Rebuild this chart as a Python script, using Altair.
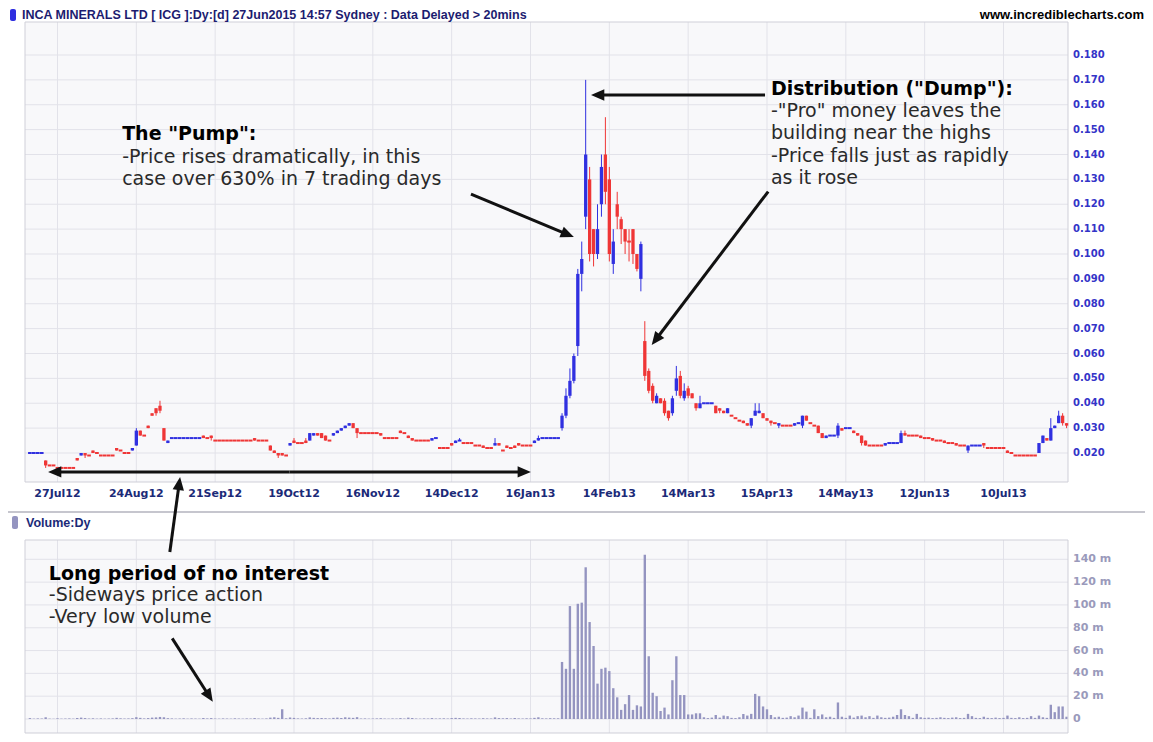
import math
import altair as alt
import pandas as pd

# ---------------- values ----------------
# one bar per ASX trading day, bar 0 = 18 Jul 2012 ... bar 263 = 31 Jul 2013
# prices in units of $0.001
OPEN_MILLS = [
    20, 20, 20, 20, 17, 15, 15, 14, 14, 14,
    14, 14, 18, 19, 20, 19, 21, 20, 19, 19,
    19, 19, 22, 21, 20, 20, 21, 23, 29, 27,
    31, 36, 38, 39, 30, 24, 26, 26, 26, 26,
    26, 26, 26, 26, 27, 26, 27, 25, 25, 25,
    25, 25, 25, 25, 25, 25, 25, 26, 25, 25,
    25, 23, 21, 20, 20, 19, 23, 25, 24, 24,
    25, 25, 27, 28, 28, 27, 25, 27, 28, 29,
    30, 31, 32, 30, 28, 28, 28, 28, 28, 28,
    26, 26, 26, 26, 29, 28, 27, 26, 25, 25,
    25, 25, 25, 26, 22, 22, 22, 24, 24, 25,
    24, 24, 24, 23, 23, 23, 22, 22, 23, 24,
    21, 23, 22, 23, 24, 23, 23, 23, 24, 25,
    26, 26, 26, 26, 26, 30, 35, 43, 49, 63,
    92, 115, 130, 110, 100, 120, 140, 130, 96, 120,
    114, 110, 105, 110, 100, 90, 65, 53, 47, 40,
    42, 41, 37, 36, 45, 51, 42, 46, 44, 40,
    38, 40, 40, 40, 39, 38, 37, 36, 35, 34,
    33, 33, 32, 31, 35, 36, 36, 34, 33, 32,
    31, 31, 31, 31, 31, 32, 31, 35, 32, 31,
    31, 28, 26, 27, 27, 27, 30, 30, 30, 29,
    28, 27, 25, 23, 23, 23, 23, 23, 24, 24,
    24, 24, 28, 27, 27, 27, 27, 26, 26, 26,
    25, 25, 25, 24, 24, 24, 23, 23, 21, 23,
    23, 23, 24, 22, 22, 22, 22, 22, 21, 20,
    19, 19, 19, 19, 19, 19, 20, 24, 26, 25,
    30, 32, 35, 32,
]
HIGH_MILLS = [
    20, 20, 20, 20, 17, 15, 15, 14, 14, 14,
    14, 14, 18, 20, 20, 19, 21, 20, 19, 19,
    19, 19, 22, 21, 20, 20, 22, 30, 29, 27,
    31, 36, 38, 41, 30, 25, 26, 26, 26, 26,
    26, 26, 26, 26, 27, 26, 27, 25, 25, 25,
    25, 25, 25, 25, 25, 25, 25, 26, 25, 25,
    25, 23, 21, 20, 20, 19, 24, 26, 24, 24,
    26, 28, 28, 28, 28, 27, 25, 28, 29, 30,
    31, 32, 32, 30, 28, 28, 28, 28, 28, 28,
    26, 26, 26, 26, 29, 28, 27, 26, 25, 25,
    25, 25, 26, 26, 22, 22, 22, 24, 25, 26,
    24, 24, 24, 23, 23, 23, 22, 22, 26, 24,
    21, 23, 22, 23, 24, 23, 23, 23, 25, 27,
    26, 26, 26, 26, 26, 36, 46, 54, 60, 94,
    105, 170, 135, 110, 120, 140, 155, 135, 110, 125,
    115, 110, 110, 110, 100, 105, 73, 54, 48, 44,
    42, 42, 37, 43, 55, 53, 48, 47, 44, 40,
    43, 40, 40, 40, 39, 38, 37, 38, 35, 34,
    33, 33, 32, 34, 40, 40, 36, 34, 33, 32,
    32, 31, 31, 31, 32, 32, 35, 35, 32, 31,
    31, 28, 27, 27, 27, 32, 30, 30, 30, 29,
    28, 27, 25, 23, 23, 23, 23, 24, 24, 24,
    24, 29, 29, 27, 27, 27, 27, 26, 26, 26,
    25, 25, 25, 24, 24, 24, 23, 23, 23, 23,
    23, 23, 24, 22, 22, 22, 22, 22, 21, 20,
    19, 19, 19, 19, 19, 19, 24, 27, 26, 34,
    31, 37, 36, 32,
]
LOW_MILLS = [
    20, 20, 20, 20, 14, 15, 15, 14, 14, 14,
    14, 14, 17, 19, 18, 19, 20, 20, 19, 19,
    19, 19, 21, 21, 20, 20, 21, 23, 27, 27,
    30, 35, 35, 36, 25, 24, 26, 26, 26, 26,
    26, 26, 26, 26, 26, 26, 25, 25, 25, 25,
    25, 25, 25, 25, 25, 25, 25, 25, 25, 25,
    25, 21, 20, 18, 19, 19, 23, 24, 24, 24,
    24, 25, 27, 27, 26, 25, 25, 27, 28, 29,
    30, 31, 30, 26, 28, 28, 28, 28, 28, 27,
    26, 26, 26, 26, 28, 28, 26, 25, 25, 25,
    25, 25, 25, 26, 22, 22, 22, 23, 24, 25,
    24, 24, 24, 23, 23, 22, 22, 22, 23, 23,
    21, 22, 22, 22, 23, 23, 23, 23, 24, 25,
    26, 26, 26, 26, 26, 29, 34, 42, 48, 59,
    85, 110, 97, 95, 98, 115, 120, 97, 92, 110,
    104, 100, 97, 96, 93, 85, 49, 44, 40, 40,
    40, 35, 33, 35, 43, 42, 41, 42, 42, 37,
    38, 40, 40, 40, 36, 36, 36, 36, 35, 34,
    33, 32, 31, 30, 35, 36, 34, 33, 31, 32,
    30, 31, 31, 31, 31, 32, 30, 33, 32, 31,
    28, 26, 26, 27, 27, 26, 29, 30, 30, 28,
    27, 23, 23, 23, 23, 23, 23, 23, 24, 24,
    24, 24, 27, 27, 27, 27, 26, 26, 26, 25,
    25, 25, 24, 24, 24, 23, 23, 23, 20, 23,
    23, 23, 22, 22, 22, 22, 22, 22, 20, 20,
    19, 19, 19, 19, 19, 19, 20, 24, 25, 25,
    30, 32, 31, 30,
]
CLOSE_MILLS = [
    20, 20, 20, 20, 15, 15, 15, 14, 14, 14,
    14, 14, 17, 20, 19, 19, 20, 20, 19, 19,
    19, 19, 21, 21, 20, 20, 22, 29, 27, 27,
    30, 35, 36, 37, 25, 25, 26, 26, 26, 26,
    26, 26, 26, 26, 26, 26, 26, 25, 25, 25,
    25, 25, 25, 25, 25, 25, 25, 25, 25, 25,
    25, 21, 20, 19, 19, 19, 24, 24, 24, 24,
    24, 28, 28, 27, 26, 25, 25, 28, 29, 30,
    31, 32, 30, 28, 28, 28, 28, 28, 28, 27,
    26, 26, 26, 26, 28, 28, 26, 25, 25, 25,
    25, 25, 26, 26, 22, 22, 22, 23, 25, 25,
    24, 24, 24, 23, 23, 22, 22, 22, 24, 23,
    21, 22, 22, 22, 23, 23, 23, 23, 25, 26,
    26, 26, 26, 26, 26, 35, 43, 49, 59, 92,
    98, 140, 100, 100, 110, 135, 125, 100, 105, 115,
    110, 105, 105, 100, 94, 104, 51, 45, 41, 43,
    40, 36, 34, 42, 50, 43, 45, 43, 42, 38,
    40, 40, 40, 40, 36, 37, 36, 38, 35, 34,
    33, 32, 31, 34, 37, 37, 34, 33, 32, 32,
    32, 31, 31, 31, 32, 32, 35, 33, 32, 31,
    28, 26, 27, 27, 27, 31, 29, 30, 30, 28,
    27, 24, 23, 23, 23, 23, 23, 24, 24, 24,
    24, 28, 27, 27, 27, 27, 26, 26, 26, 25,
    25, 25, 24, 24, 24, 23, 23, 23, 23, 23,
    23, 23, 23, 22, 22, 22, 22, 22, 20, 20,
    19, 19, 19, 19, 19, 19, 24, 27, 25, 30,
    31, 35, 32, 31,
]
# daily volume, millions of shares
VOLUME_M = [
    0.8, 0.3, 0.5, 0.4, 1.5, 0.3, 0.2, 0.6, 0.3, 0.4,
    0.5, 0.3, 0.9, 1.2, 0.8, 0.4, 0.6, 0.3, 0.5, 0.3,
    0.4, 0.5, 1.0, 0.6, 0.4, 0.5, 0.7, 1.6, 1.0, 0.5,
    0.8, 1.2, 1.4, 1.8, 1.5, 0.7, 0.5, 0.3, 0.4, 0.6,
    0.3, 0.5, 0.4, 0.3, 0.9, 0.5, 0.8, 0.4, 0.3, 0.5,
    0.4, 0.3, 0.6, 0.4, 0.3, 0.5, 0.4, 0.8, 0.4, 0.3,
    0.5, 1.2, 1.5, 1.0, 8.5, 0.6, 1.3, 1.0, 0.5, 0.4,
    0.6, 1.4, 1.0, 0.8, 0.9, 0.7, 0.5, 1.0, 1.2, 0.9,
    1.5, 1.2, 1.0, 1.6, 0.4, 0.5, 0.3, 0.4, 0.5, 0.7,
    0.4, 0.3, 0.5, 0.4, 0.8, 0.4, 1.2, 0.9, 0.4, 0.3,
    0.5, 0.4, 0.8, 0.4, 0.5, 0.6, 0.4, 0.8, 1.0, 0.9,
    0.5, 0.4, 0.6, 0.5, 0.4, 0.7, 0.5, 0.4, 1.4, 0.8,
    0.6, 0.8, 0.4, 0.9, 0.5, 0.4, 0.6, 0.5, 1.0, 1.5,
    0.6, 0.5, 0.7, 0.6, 0.6, 50, 44, 99, 44, 101,
    102, 133, 85, 64, 31, 44, 45, 42, 27, 19,
    8, 13, 21, 8, 12, 11, 144, 55, 23, 20,
    7, 10, 4, 34, 55, 21, 21, 4, 4, 5,
    5, 1.5, 0.8, 1.2, 3.5, 1.2, 3.0, 2.5, 1.0, 0.8,
    1.5, 4.4, 3.0, 4.5, 22, 20, 11, 8.5, 3.5, 1.5,
    2.0, 1.0, 1.2, 2.5, 1.5, 3.0, 10, 6.5, 1.0, 8.5,
    2.5, 4.0, 1.5, 2.0, 1.0, 14.5, 2.0, 1.0, 3.0, 1.2,
    2.5, 3.0, 1.5, 2.5, 1.0, 3.0, 1.5, 1.0, 1.2, 2.0,
    3.5, 8.5, 3.5, 2.5, 1.0, 4.5, 1.5, 1.0, 1.2, 0.8,
    1.0, 1.5, 1.0, 0.8, 1.2, 1.5, 0.8, 1.0, 4.5, 2.5,
    1.0, 0.8, 2.0, 1.0, 0.8, 1.2, 0.8, 1.0, 3.0, 1.0,
    0.8, 1.5, 0.8, 1.0, 2.5, 1.0, 3.0, 1.5, 1.0, 12.5,
    6.0, 11, 11, 2.0,
]

XLAB_IDX = [7, 27, 47, 67, 87, 107, 127, 147, 167, 187, 207, 227, 247]
XLAB_TXT = ["27Jul12", "24Aug12", "21Sep12", "19Oct12", "16Nov12", "14Dec12", "16Jan13",
            "14Feb13", "14Mar13", "15Apr13", "14May13", "12Jun13", "10Jul13"]
PRICE_TICKS = [0.020, 0.030, 0.040, 0.050, 0.060, 0.070, 0.080, 0.090, 0.100,
               0.110, 0.120, 0.130, 0.140, 0.150, 0.160, 0.170, 0.180]
VOL_TICKS = [0, 20, 40, 60, 80, 100, 120, 140]

HEADER_TXT = "INCA MINERALS LTD [ ICG ]:Dy:[d]  27Jun2015 14:57 Sydney : Data Delayed > 20mins"
SITE_TXT = "www.incrediblecharts.com"
VOL_PANEL_TXT = "Volume:Dy"

# annotations, anchored in (bar index, price) or (bar index, volume) units
TITLE_TXT = ['The "Pump":', 'Distribution ("Dump"):']
TITLE_I = [23.4, 188.0]
TITLE_P = [0.1458, 0.1639]
BODY_TXT = ["-Price rises dramatically, in this\ncase over 630% in 7 trading days",
            '-"Pro" money leaves the\nbuilding near the highs\n-Price falls just as rapidly\nas it rose']
BODY_I = [23.4, 188.0]
BODY_P = [0.1366, 0.1551]
LONG_TITLE_TXT = "Long period of no interest"
LONG_BODY_TXT = "-Sideways price action\n-Very low volume"
LONG_I = 4.8
LONG_TITLE_V = 121.9
LONG_BODY_V = 103.4

ARROW_FROM_I = [111.9, 186.5, 187.3, 65.85, 65.85, 35.5, 36.1]
ARROW_FROM_P = [0.1241, 0.1639, 0.1251, 0.0124, 0.0124, -0.0198, -0.0545]
ARROW_TO_I = [138.0, 142.35, 157.75, 4.6, 127.1, 38.1, 46.4]
ARROW_TO_P = [0.1068, 0.1639, 0.0634, 0.0124, 0.0124, 0.0104, -0.0800]

# ---------------- layout ----------------
PAD_L, PAD_T, PAD_R, PAD_B = 17, 14, 77, 1
W, H = 1043, 711
PRICE_PANEL_H = 460
VOL_PANEL_TOP = 518

BAR_PX = (1003.5 - 57.5) / 240.0
X_DOM = [7 + (25 - 57.5) / BAR_PX, 7 + (25 + W - 57.5) / BAR_PX]
P_PX = (453 - 55) / 0.160
P_DOM = [0.020 - (22 + H - 453) / P_PX, 0.020 + (453 - 22) / P_PX]
V_PX = (719 - 559.3) / 140.0
V_DOM = [-(22 + H - 719) / V_PX, (719 - 22) / V_PX]

BLUE, RED = "#3030e0", "#ef3636"
VOLC = "#9494c0"
GRID = "#e2e2e9"
FRAME = "#cfcfd8"
NAVY = "#1b2a78"

# ---------------- tables ----------------
dirs = []
prev_c, prev_d = None, "up"
for o, c in zip(OPEN_MILLS, CLOSE_MILLS):
    if c > o:
        d = "up"
    elif c < o:
        d = "down"
    elif prev_c is None or c == prev_c:
        d = prev_d
    else:
        d = "up" if c > prev_c else "down"
    dirs.append(d)
    prev_c, prev_d = c, d

n = len(OPEN_MILLS)
assert n == len(HIGH_MILLS) == len(LOW_MILLS) == len(CLOSE_MILLS) == len(VOLUME_M)
bars = pd.DataFrame({
    "i": list(range(n)),
    "o": [v / 1000 for v in OPEN_MILLS],
    "h": [v / 1000 for v in HIGH_MILLS],
    "l": [v / 1000 for v in LOW_MILLS],
    "c": [v / 1000 for v in CLOSE_MILLS],
    "vol": VOLUME_M,
    "dir": dirs,
})

KX = W / (X_DOM[1] - X_DOM[0])
KP = H / (P_DOM[1] - P_DOM[0])
HEAD_BACK = 11.0
seg_rows, head_rows = [], []
for fi, fp, ti, tp in zip(ARROW_FROM_I, ARROW_FROM_P, ARROW_TO_I, ARROW_TO_P):
    dx = (ti - fi) * KX
    dy = (tp - fp) * KP
    L = math.hypot(dx, dy)
    ux, uy = dx / L, dy / L
    ang = math.degrees(math.atan2(ux, uy)) % 360
    seg_rows.append({"i": fi, "p": fp, "i2": ti - ux * HEAD_BACK / KX, "p2": tp - uy * HEAD_BACK / KP})
    head_rows.append({"i": ti, "p": tp, "ang": ang})
segs = pd.DataFrame(seg_rows)
heads = pd.DataFrame(head_rows)

titles = pd.DataFrame({"i": TITLE_I, "p": TITLE_P, "t": TITLE_TXT})
bodies = pd.DataFrame({"i": BODY_I, "p": BODY_P, "t": BODY_TXT})
longt = pd.DataFrame({"i": [LONG_I, LONG_I], "v": [LONG_TITLE_V, LONG_BODY_V],
                      "t": [LONG_TITLE_TXT, LONG_BODY_TXT], "w": ["bold", "normal"]})
grid_x = pd.DataFrame({"i": XLAB_IDX, "t": XLAB_TXT})
ptick = pd.DataFrame({"p": PRICE_TICKS, "t": ["%.3f" % v for v in PRICE_TICKS]})
vtick = pd.DataFrame({"v": VOL_TICKS, "t": ["0" if v == 0 else "%d m" % v for v in VOL_TICKS]})
one = pd.DataFrame({"k": [0]})

# ---------------- encodings ----------------
XS = alt.Scale(domain=X_DOM, nice=False, zero=False)
PS = alt.Scale(domain=P_DOM, nice=False, zero=False)
VS = alt.Scale(domain=V_DOM, nice=False, zero=False)


def X(f):
    return alt.X(f, type="quantitative", scale=XS, axis=None)


def PY(f):
    return alt.Y(f, type="quantitative", scale=PS, axis=None)


def VY(f):
    return alt.Y(f, type="quantitative", scale=VS, axis=None)


COLOR = alt.Color("dir:N", scale=alt.Scale(domain=["up", "down"], range=[BLUE, RED]), legend=None)

# ---------------- volume panel ----------------
vgrid = alt.Chart(grid_x).mark_rule(color=GRID, strokeWidth=1).encode(
    x=X("i"), y=alt.value(VOL_PANEL_TOP), y2=alt.value(H))
vgrid_h = alt.Chart(vtick).mark_rule(color=GRID, strokeWidth=1).encode(
    y=VY("v"), x=alt.value(0), x2=alt.value(W))
vlabels = alt.Chart(vtick).mark_text(
    align="left", baseline="middle", font="DejaVu Sans", fontWeight="bold",
    fontSize=11, color="#9a9abb").encode(x=alt.value(W + 5), y=VY("v"), text="t:N")
vbars = alt.Chart(bars).transform_calculate(
    xa="datum.i - 0.3", xb="datum.i + 0.3", zero="0"
).mark_rect(color=VOLC).encode(
    x=X("xa:Q"), x2="xb:Q", y=VY("vol"), y2="zero:Q")
long_title = alt.Chart(longt).transform_filter("datum.w == 'bold'").mark_text(
    align="left", baseline="alphabetic", font="DejaVu Sans", fontSize=19,
    fontWeight="bold", color="#000000").encode(x=X("i"), y=VY("v"), text="t:N")
long_body = alt.Chart(longt).transform_filter("datum.w == 'normal'").mark_text(
    align="left", baseline="alphabetic", font="DejaVu Sans", fontSize=19,
    color="#2a2a2a", lineBreak="\n", lineHeight=22.3).encode(x=X("i"), y=VY("v"), text="t:N")
vol_group = alt.layer(vgrid, vgrid_h, vlabels, vbars, long_title, long_body)

# ---------------- price panel + decorations ----------------
gap = alt.Chart(one).mark_rect(color="#ffffff").encode(
    x=alt.value(-PAD_L), x2=alt.value(W + PAD_R),
    y=alt.value(PRICE_PANEL_H), y2=alt.value(VOL_PANEL_TOP))
sep = alt.Chart(one).mark_rule(color="#c6c6ce", strokeWidth=2).encode(
    x=alt.value(-PAD_L), x2=alt.value(W + PAD_R), y=alt.value(490))
pframe = alt.Chart(one).mark_rect(fillOpacity=0, stroke=FRAME, strokeWidth=1).encode(
    x=alt.value(0), x2=alt.value(W), y=alt.value(0), y2=alt.value(PRICE_PANEL_H))
vframe = alt.Chart(one).mark_rect(fillOpacity=0, stroke=FRAME, strokeWidth=1).encode(
    x=alt.value(0), x2=alt.value(W), y=alt.value(VOL_PANEL_TOP), y2=alt.value(H))
pgrid = alt.Chart(grid_x).mark_rule(color=GRID, strokeWidth=1).encode(
    x=X("i"), y=alt.value(0), y2=alt.value(PRICE_PANEL_H))
pgrid_h = alt.Chart(ptick).mark_rule(color=GRID, strokeWidth=1).encode(
    y=PY("p"), x=alt.value(0), x2=alt.value(W))
plabels = alt.Chart(ptick).mark_text(
    align="left", baseline="middle", font="DejaVu Sans", fontWeight="bold",
    fontSize=10, color="#3434c8").encode(x=alt.value(W + 5), y=PY("p"), text="t:N")
xlabels = alt.Chart(grid_x).mark_text(
    align="center", baseline="top", font="DejaVu Sans", fontWeight="bold",
    fontSize=11, color=NAVY).encode(x=X("i"), y=alt.value(PRICE_PANEL_H + 6), text="t:N")

wicks = alt.Chart(bars).mark_rule(strokeWidth=1).encode(
    x=X("i"), y=PY("l"), y2="h:Q", color=COLOR)
bodies_l = alt.Chart(bars).transform_calculate(
    x0="datum.i - 0.42", x1="datum.i + 0.42"
).mark_rect().encode(x=X("x0:Q"), x2="x1:Q", y=PY("o"), y2="c:Q", color=COLOR)
dashes = alt.Chart(bars).transform_filter("datum.o == datum.c").transform_calculate(
    xa="datum.i - 0.47", xb="datum.i + 0.47"
).mark_rule(strokeWidth=2).encode(x=X("xa:Q"), x2="xb:Q", y=PY("c"), color=COLOR)

head_icon = alt.Chart(one).mark_rect(color="#2f2fe0", cornerRadius=2).encode(
    x=alt.value(-15), x2=alt.value(-9), y=alt.value(-13), y2=alt.value(-1))
head_txt = alt.Chart(one).mark_text(
    text=HEADER_TXT, align="left", baseline="alphabetic", font="Liberation Sans",
    fontSize=12.5, fontWeight="bold", color="#1c1c70").encode(x=alt.value(-3), y=alt.value(-3))
site_txt = alt.Chart(one).mark_text(
    text=SITE_TXT, align="right", baseline="alphabetic", font="Liberation Sans",
    fontSize=13, fontWeight="bold", color="#000000").encode(x=alt.value(W + PAD_R - 1), y=alt.value(-3))
vol_icon = alt.Chart(one).mark_rect(color=VOLC, cornerRadius=2).encode(
    x=alt.value(-13), x2=alt.value(-7), y=alt.value(494), y2=alt.value(507))
vol_txt = alt.Chart(one).mark_text(
    text=VOL_PANEL_TXT, align="left", baseline="alphabetic", font="Liberation Sans",
    fontSize=12.5, fontWeight="bold", color=NAVY).encode(x=alt.value(1), y=alt.value(505))

ann_titles = alt.Chart(titles).mark_text(
    align="left", baseline="alphabetic", font="DejaVu Sans", fontSize=19,
    fontWeight="bold", color="#000000").encode(x=X("i"), y=PY("p"), text="t:N")
ann_bodies = alt.Chart(bodies).mark_text(
    align="left", baseline="alphabetic", font="DejaVu Sans", fontSize=19,
    color="#2a2a2a", lineBreak="\n", lineHeight=22.3).encode(x=X("i"), y=PY("p"), text="t:N")
arrow_lines = alt.Chart(segs).mark_rule(strokeWidth=3, color="#111111", strokeCap="butt").encode(
    x=X("i"), y=PY("p"), x2="i2:Q", y2="p2:Q")
arrow_heads = alt.Chart(heads).mark_point(
    shape="M0,0L-0.6,1.4L0.6,1.4Z", filled=True, size=360, color="#111111",
    opacity=1, strokeWidth=0).encode(x=X("i"), y=PY("p"), angle=alt.Angle("ang:Q", scale=None))

price_group = alt.layer(gap, sep, pgrid, pgrid_h, plabels, xlabels, pframe, vframe,
                        wicks, bodies_l, dashes,
                        head_icon, head_txt, site_txt, vol_icon, vol_txt,
                        ann_titles, ann_bodies, arrow_lines, arrow_heads)

chart = alt.layer(vol_group, price_group).resolve_scale(y="independent").properties(
    width=W, height=H,
    padding={"left": PAD_L, "top": PAD_T, "right": PAD_R, "bottom": PAD_B},
    autosize=alt.AutoSizeParams(type="none"),
    background="#ffffff",
).configure_view(stroke=None, fill="#f8f8fa")

chart.save("out.html", embed_options={"renderer": "svg", "actions": False})
